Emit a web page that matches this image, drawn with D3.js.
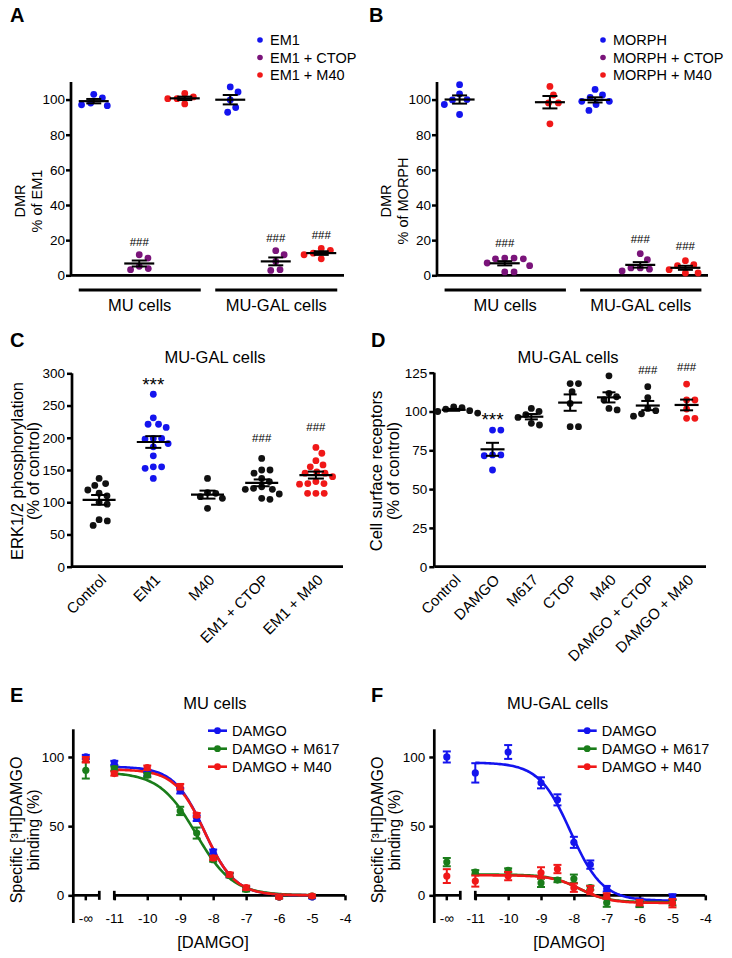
<!DOCTYPE html>
<html><head><meta charset="utf-8">
<script src="https://cdn.jsdelivr.net/npm/d3@7"></script>
<style>
body{margin:0;background:#fff;}
svg{display:block;font-family:"Liberation Sans",Arial,Helvetica,sans-serif;}
</style></head><body>
<svg id="fig" width="732" height="958"></svg>
<script>
// ================= DATA =================
const BLUE = "#1414ee", PURPLE = "#7a147a", RED = "#f01818", BLACK = "#111111", GREEN = "#1a7d1a";

// Panel A – DMR, % of EM1
const aCells = ["MU cells", "MU-GAL cells"];
const aTreatments = ["EM1", "EM1 + CTOP", "EM1 + M40"];
const aMU_EM1   = [103, 98, 96.5, 97, 101];
const aMU_CTOP  = [11.7, 9.8, 5.1, 3.2, 3.8];
const aMU_M40   = [103.5, 100.5, 97.5, 101.5, 100.5];
const aGAL_EM1  = [107.2, 104.3, 99.8, 95.5, 92.8];
const aGAL_CTOP = [14, 11.7, 7.9, 2.8, 3.2];
const aGAL_M40  = [15.3, 14.2, 12.6, 11.7, 9.4];
const aSig = [null, "###", null, null, "###", "###"];
const abYTicks = [0, 20, 40, 60, 80, 100];

// Panel B – DMR, % of MORPH
const bTreatments = ["MORPH", "MORPH + CTOP", "MORPH + M40"];
const bMU_MORPH  = [108.5, 103.2, 100, 99.8, 97.2, 91.5];
const bMU_CTOP   = [9.8, 9.4, 9.4, 9.8, 7, 5.5, 1.9, 1.9];
const bMU_M40    = [107.5, 102.6, 98.1, 98.1, 86.2];
const bGAL_MORPH = [105.8, 102.6, 101.3, 99, 99, 97.2, 93.8];
const bGAL_CTOP  = [12.3, 8.9, 4.2, 3.5, 4.2, 2.5];
const bGAL_M40   = [8.3, 6, 5.5, 3.2, 1.3, 1.3];
const bSig = [null, "###", null, null, "###", "###"];

// Panel C – ERK1/2 phosphorylation
const cCategories = ["Control", "EM1", "M40", "EM1 + CTOP", "EM1 + M40"];
const cControl = [137, 129, 126, 119, 114, 110, 100, 97, 73, 71, 64];
const cEM1     = [267.5, 231, 221, 216, 221, 199, 199, 198, 191, 186, 172, 155, 155, 152.6, 137];
const cM40     = [137, 113.8, 115, 106, 108.6, 90.5];
const cEM1CTOP = [168, 150, 145, 150, 132, 137, 124, 120, 121.6, 120, 106, 104.5, 112.8];
const cEM1M40  = [185, 176, 164.5, 157.8, 155, 147, 145, 145, 139.7, 132, 129, 129, 113.8, 113.8, 113.8, 128];
const cSig = [null, "***", null, "###", "###"];
const cYTicks = [0, 50, 100, 150, 200, 250, 300];

// Panel D – Cell surface receptors
const dCategories = ["Control", "DAMGO", "M617", "CTOP", "M40", "DAMGO + CTOP", "DAMGO + M40"];
const dControl   = [103, 102.5, 101.5, 100.5, 100, 99];
const dDAMGO     = [88, 88, 72, 72, 71.5, 62.3];
const dM617      = [102, 100, 98, 96.2, 91.3, 92.4];
const dCTOP      = [118, 118, 112.8, 105.2, 90.2, 90.2];
const dM40       = [123, 111.7, 109.5, 107.4, 102, 101];
const dDAMGOCTOP = [116, 109, 102, 100.5, 98.5, 97];
const dDAMGOM40  = [117.7, 107.4, 107.4, 101.6, 95.6, 95.6];
const dSig = [null, "***", null, null, null, "###", "###"];
const dYTicks = [0, 25, 50, 75, 100, 125];

// Panels E / F – [3H]DAMGO binding
const logDose = [-11, -10, -9, -8.5, -8, -7.5, -7, -6, -5];
const efXTicks = [-11, -10, -9, -8, -7, -6, -5, -4];
const efYTicks = [0, 50, 100];
const efSeriesNames = ["DAMGO", "DAMGO + M617", "DAMGO + M40"];
// E: MU cells   (value at -inf with error, then values at logDose)
const eDAMGO_inf = [100, 1.5],  eDAMGO = [95.7, 87.6, 75.6, 55.7, 31.6, 14.6, 4.8, -1.2, -1.2];
const eDAMGO_err = [1.5, 1.5, 2, 2, 1.5, 1.5, 1.5, 1, 1];
const eM617_inf  = [90.4, 6],   eM617  = [91.6, 86.8, 61, 45, 25.8, 14.4, 4.3, -1.2, -0.5];
const eM617_err  = [1.5, 1.5, 3, 4, 1.5, 1.5, 1.5, 1, 1];
const eM40_inf   = [98, 2],     eM40   = [88, 92.3, 78.5, 58, 27, 15, 5.5, -1.2, -0.5];
const eM40_err   = [1.5, 1.5, 2, 1.5, 1.5, 1.5, 1.5, 1, 1];
// fitted parameters: [top, bottom, logIC50, hill]
const eFits = [[93, 0, -8.27, 0.94], [89, 0, -8.52, 0.78], [91, 0, -8.25, 0.95]];
// F: MU-GAL cells
const fDAMGO_inf = [100, 4],    fDAMGO = [88.5, 103.6, 81.3, 69, 38.3, 22.2, 4.8, -5.3, -1.2];
const fDAMGO_err = [7, 5, 4, 4, 4, 3, 2, 3, 2];
const fM617_inf  = [24, 3],     fM617  = [16.7, 18, 9, 11, 12, 5.5, -5.3, -6.5, -5.3];
const fM617_err  = [1.5, 1.5, 3, 1.5, 3, 1.5, 3, 2, 2];
const fM40_inf   = [13.9, 5],   fM40   = [10.3, 13.9, 16.3, 19, 5.5, 3.8, -0.5, -5.3, -5.7];
const fM40_err   = [4, 3, 4, 3, 3, 3, 2, 2, 3];
const fFits = [[96, -4, -8.1, 0.9], [15, -5, -7.85, 1], [14.5, -5.5, -7.8, 1]];

// ================= DRAWING =================
const svg = d3.select("#fig");
svg.append("rect").attr("width", 732).attr("height", 958).attr("fill", "#fff");

function txt(x, y, t, fs, opt = {}) {
  return svg.append("text").attr("x", x).attr("y", y).attr("font-size", fs)
    .attr("text-anchor", opt.anchor || "start")
    .attr("dominant-baseline", opt.base || "auto")
    .attr("font-weight", opt.weight || "normal")
    .attr("fill", "#000").text(t);
}
function letter(x, y, t) { txt(x, y, t, 20, {weight: "bold"}); }
function yLabel(lines, xs, cy, fs) {
  lines.forEach((t, i) => svg.append("text")
    .attr("transform", `translate(${xs[i]},${cy}) rotate(-90)`)
    .attr("text-anchor", "middle").attr("dominant-baseline", "central")
    .attr("font-size", fs).text(t));
}
function yAxis(y, x0, ticks, pad) {
  const g = svg.append("g").attr("transform", `translate(${x0},0)`)
    .call(d3.axisLeft(y).tickValues(ticks).tickSize(5).tickSizeOuter(0).tickPadding(pad));
  g.select(".domain").remove();
  g.selectAll(".tick line").attr("stroke", "#000").attr("stroke-width", 2.5);
  g.selectAll(".tick text").attr("font-size", 13.5).attr("fill", "#000")
    .attr("font-family", "Liberation Sans, Arial, sans-serif");
  svg.append("line").attr("x1", x0).attr("x2", x0)
    .attr("y1", y.range()[0]).attr("y2", y.range()[1])
    .attr("stroke", "#000").attr("stroke-width", 2.7);
}
function hLine(x1, x2, yy, w) {
  svg.append("line").attr("x1", x1).attr("x2", x2).attr("y1", yy).attr("y2", yy)
    .attr("stroke", "#000").attr("stroke-width", w);
}

// beeswarm placement of points around column centre
function swarm(vals, y, cx, r, gap) {
  const D = 2 * r + gap;
  const pts = vals.map(v => ({v, y: y(v)})).sort((a, b) => a.y - b.y);
  const placed = [];
  pts.forEach(p => {
    const cands = [0];
    placed.forEach(q => {
      const dy = Math.abs(q.y - p.y);
      if (dy < D) { const dx = Math.sqrt(D * D - dy * dy); cands.push(q.x - cx + dx + 0.01, q.x - cx - dx - 0.01); }
    });
    cands.sort((a, b) => Math.abs(a) - Math.abs(b));
    for (const c of cands) {
      const xx = cx + c;
      if (placed.every(q => (q.x - xx) ** 2 + (q.y - p.y) ** 2 >= D * D - 0.05)) { p.x = xx; break; }
    }
    placed.push(p);
  });
  return placed;
}

function scatterColumns(x, y, cols, st) {
  cols.forEach(c => {
    const cx = x(c.key) + x.bandwidth() / 2;
    const pts = swarm(c.values, y, cx, st.r, st.gap);
    svg.append("g").selectAll("circle").data(pts).join("circle")
      .attr("cx", d => d.x).attr("cy", d => d.y).attr("r", st.r).attr("fill", c.color);
    const m = d3.mean(c.values), se = d3.deviation(c.values) / Math.sqrt(c.values.length);
    hLine(cx - st.meanHalf, cx + st.meanHalf, y(m), 2.2);
    svg.append("line").attr("x1", cx).attr("x2", cx).attr("y1", y(m - se)).attr("y2", y(m + se))
      .attr("stroke", "#000").attr("stroke-width", 2);
    [m - se, m + se].forEach(v => hLine(cx - st.capHalf, cx + st.capHalf, y(v), 2));
    if (c.sig) {
      const top = y(d3.max(c.values));
      if (c.sig === "***") txt(cx, top - st.starOff + 10.8, c.sig, 19, {anchor: "middle"});
      else txt(cx, top - st.hashOff, c.sig, 11.5, {anchor: "middle", base: "central"});
    }
  });
}

// ---------- Panels A & B ----------
function dmrPanel(o) {
  const cols = [];
  aCells.forEach((cell, ci) => o.treatments.forEach((t, ti) =>
    cols.push({key: cell + "|" + t, values: o.values[ci][ti], color: [BLUE, PURPLE, RED][ti], sig: o.sig[ci * 3 + ti]})));
  const x = d3.scaleBand().domain(cols.map(c => c.key)).range([o.x0, o.x1]);
  const y = d3.scaleLinear().domain([0, 110]).range([275.3, 82]);
  yAxis(y, o.x0, abYTicks, 1);
  hLine(o.x0, o.x1, y(0), 2.7);
  scatterColumns(x, y, cols, {r: 3.4, gap: 2.5, meanHalf: 15, capHalf: 7.5, hashOff: o.hashOff, starOff: 14});
  aCells.forEach((cell, ci) => {
    const k0 = cols[ci * 3].key, k2 = cols[ci * 3 + 2].key;
    const xa = x(k0) + x.bandwidth() / 2 - 15, xb = x(k2) + x.bandwidth() / 2 + 16;
    hLine(xa, xb, 290, 3);
    txt((xa + xb) / 2, 305, cell, 16.5, {anchor: "middle", base: "central"});
  });
  o.treatments.forEach((t, i) => {
    svg.append("circle").attr("cx", o.legX).attr("cy", 40 + i * 17.5).attr("r", 2.8).attr("fill", [BLUE, PURPLE, RED][i]);
    txt(o.legX + 10, 40 + i * 17.5, t, 14.5, {base: "central"});
  });
  yLabel(["DMR", o.ylab], [o.x0 - 51, o.x0 - 34.5], 201, 14.5);
}
letter(10, 22, "A");
dmrPanel({x0: 71, x1: 344, treatments: aTreatments,
  values: [[aMU_EM1, aMU_CTOP, aMU_M40], [aGAL_EM1, aGAL_CTOP, aGAL_M40]],
  sig: aSig, legX: 260, ylab: "% of EM1", hashOff: 13});
letter(369, 22, "B");
dmrPanel({x0: 437, x1: 708, treatments: bTreatments,
  values: [[bMU_MORPH, bMU_CTOP, bMU_M40], [bGAL_MORPH, bGAL_CTOP, bGAL_M40]],
  sig: bSig, legX: 603, ylab: "% of MORPH", hashOff: 15});

// ---------- Panels C & D ----------
function catPanel(o) {
  const x = d3.scaleBand().domain(o.cats).range([o.x0, o.x1]);
  const y = d3.scaleLinear().domain([0, o.ymax]).range([566.7, o.ytop]);
  yAxis(y, o.x0, o.ticks, 2);
  hLine(o.x0, o.x1, y(0), 2.7);
  const cols = o.cats.map((c, i) => ({key: c, values: o.values[i], color: o.colors[i], sig: o.sig[i]}));
  scatterColumns(x, y, cols, o.st);
  o.cats.forEach(c => {
    const cx = x(c) + x.bandwidth() / 2 + 4;
    svg.append("text").attr("transform", `translate(${cx},577) rotate(-45)`)
      .attr("text-anchor", "end").attr("dominant-baseline", "central")
      .attr("font-size", 15).text(c);
  });
  txt(o.titleX, 357, "MU-GAL cells", 16.5, {anchor: "middle", base: "central"});
  yLabel(o.ylab, o.ylabX, 471, 16.5);
}
letter(10, 347, "C");
catPanel({x0: 72, x1: 343, ymax: 300, ytop: 373.3, ticks: cYTicks, cats: cCategories,
  values: [cControl, cEM1, cM40, cEM1CTOP, cEM1M40],
  colors: [BLACK, BLUE, BLACK, BLACK, RED], sig: cSig,
  st: {r: 3.4, gap: 1.5, meanHalf: 16.5, capHalf: 8, hashOff: 20, starOff: 14},
  titleX: 215, ylab: ["ERK1/2 phosphorylation", "(% of control)"], ylabX: [17, 32.5]});
letter(371, 347, "D");
catPanel({x0: 434.3, x1: 706, ymax: 125, ytop: 372.7, ticks: dYTicks, cats: dCategories,
  values: [dControl, dDAMGO, dM617, dCTOP, dM40, dDAMGOCTOP, dDAMGOM40],
  colors: [BLACK, BLUE, BLACK, BLACK, BLACK, BLACK, RED], sig: dSig,
  st: {r: 3.4, gap: 1.5, meanHalf: 12, capHalf: 6.5, hashOff: 17, starOff: 15},
  titleX: 568, ylab: ["Cell surface receptors", "(% of control)"], ylabX: [376, 393]});

// ---------- Panels E & F ----------
function bindingPanel(o) {
  const y = d3.scaleLinear().domain([-20, 120]).range([923, 729.3]);
  const x = d3.scaleLinear().domain([-11, -4]).range([o.xL, o.xR]);
  const xInf = o.x0 + 12.5, xBreak = o.x0 + 26;
  const y0 = y(0);
  yAxis(y, o.x0, efYTicks, 4);
  // broken x axis
  hLine(o.x0, xBreak, y0, 2.7);
  hLine(x(-11), x(-4), y0, 2.7);
  [xBreak, x(-11)].forEach(xx => svg.append("line").attr("x1", xx).attr("x2", xx)
    .attr("y1", y0 - 4.5).attr("y2", y0 + 4.5).attr("stroke", "#000").attr("stroke-width", 2.7));
  const gx = svg.append("g").attr("transform", `translate(0,${y0})`)
    .call(d3.axisBottom(x).tickValues(efXTicks).tickSize(5).tickSizeOuter(0).tickPadding(13)
      .tickFormat(d => d3.format("d")(d).replace("−", "-")));
  gx.select(".domain").remove();
  gx.selectAll(".tick line").attr("stroke", "#000").attr("stroke-width", 2.5);
  gx.selectAll(".tick text").attr("font-size", 13.5).attr("fill", "#000").attr("dy", "0");
  gx.selectAll(".tick text").attr("y", 23).attr("dominant-baseline", "central");
  svg.append("line").attr("x1", xInf).attr("x2", xInf).attr("y1", y0).attr("y2", y0 + 5)
    .attr("stroke", "#000").attr("stroke-width", 2.5);
  txt(xInf, y0 + 23, "-∞", 13.5, {anchor: "middle", base: "central"});

  const colors = [BLUE, GREEN, RED];
  // fitted curves (from fit parameters)
  const xs = d3.range(-11, -4.999, 0.05);
  o.fits.forEach((p, i) => {
    const [top, bot, c, h] = p;
    const line = d3.line().x(d => x(d)).y(d => y(bot + (top - bot) / (1 + Math.pow(10, h * (d - c)))));
    svg.append("path").attr("d", line(xs)).attr("fill", "none")
      .attr("stroke", colors[i]).attr("stroke-width", 2.6);
  });
  // points and error bars
  o.series.forEach((s, i) => {
    const pts = [{px: xInf, v: s.inf[0], e: s.inf[1]}]
      .concat(logDose.map((d, j) => ({px: x(d), v: s.vals[j], e: s.err[j]})));
    const g = svg.append("g").attr("stroke", colors[i]).attr("stroke-width", 2);
    pts.forEach(p => {
      g.append("line").attr("x1", p.px).attr("x2", p.px).attr("y1", y(p.v - p.e)).attr("y2", y(p.v + p.e));
      [p.v - p.e, p.v + p.e].forEach(v => g.append("line").attr("x1", p.px - 4).attr("x2", p.px + 4)
        .attr("y1", y(v)).attr("y2", y(v)));
    });
    svg.append("g").selectAll("circle").data(pts).join("circle")
      .attr("cx", d => d.px).attr("cy", d => y(d.v)).attr("r", 3.6).attr("fill", colors[i]);
  });
  // legend
  efSeriesNames.forEach((n, i) => {
    const ly = 730.7 + i * 18;
    svg.append("line").attr("x1", o.legX).attr("x2", o.legX + 19).attr("y1", ly).attr("y2", ly)
      .attr("stroke", colors[i]).attr("stroke-width", 2.6);
    svg.append("circle").attr("cx", o.legX + 9.5).attr("cy", ly).attr("r", 3.4).attr("fill", colors[i]);
    txt(o.legX + 24, ly, n, 14.5, {base: "central"});
  });
  txt(o.titleX, 703, o.title, 16.5, {anchor: "middle", base: "central"});
  txt(o.xlabX, 942, "[DAMGO]", 16.5, {anchor: "middle", base: "central"});
  yLabel(["Specific [³H]DAMGO", "binding (%)"], [o.x0 - 56.6, o.x0 - 40], 830, 16);
}
letter(10, 702, "E");
bindingPanel({x0: 73.3, xL: 114.3, xR: 345, legX: 208, title: "MU cells", titleX: 215, xlabX: 213,
  fits: eFits,
  series: [{inf: eDAMGO_inf, vals: eDAMGO, err: eDAMGO_err},
           {inf: eM617_inf, vals: eM617, err: eM617_err},
           {inf: eM40_inf, vals: eM40, err: eM40_err}]});
letter(371, 702, "F");
bindingPanel({x0: 434.3, xL: 475.3, xR: 705.3, legX: 577.7, title: "MU-GAL cells", titleX: 557.7, xlabX: 569,
  fits: fFits,
  series: [{inf: fDAMGO_inf, vals: fDAMGO, err: fDAMGO_err},
           {inf: fM617_inf, vals: fM617, err: fM617_err},
           {inf: fM40_inf, vals: fM40, err: fM40_err}]});
</script>
</body></html>
